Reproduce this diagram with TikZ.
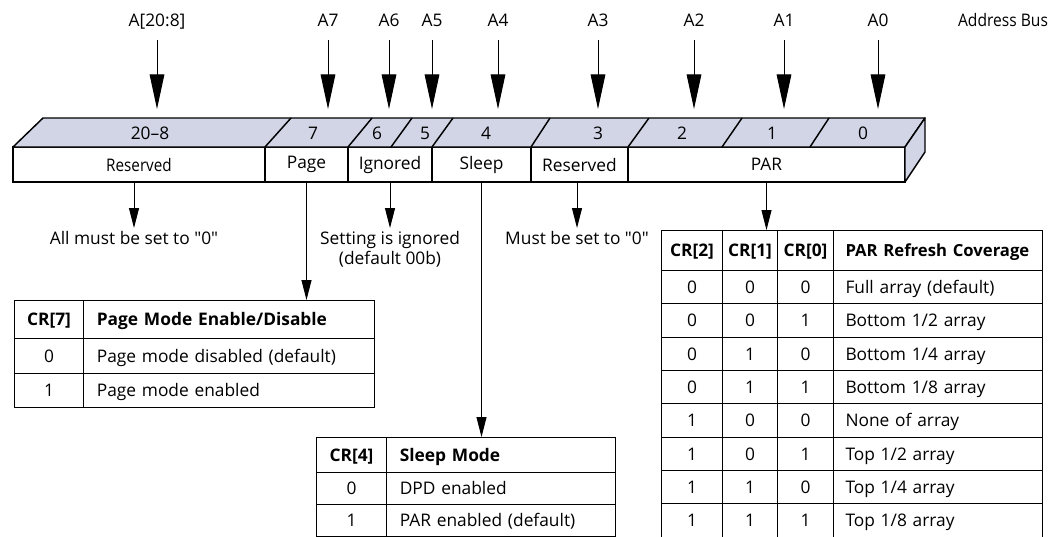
\documentclass[tikz,border=0pt]{standalone}
\usepackage{fontspec}
\setmainfont{Open Sans}
\usetikzlibrary{positioning,matrix,arrows.meta}
\definecolor{regblue}{RGB}{209,213,230}

\tikzset{
    regcell/.style={draw,fill=white,line width=1.1pt,minimum height=26.25pt,inner sep=0pt,outer sep=0pt,anchor=north west},
    face/.style={draw,fill=regblue,line width=1.1pt,line join=round},
    buslbl/.style={inner xsep=0pt,inner ysep=10.5pt,text height=9.3pt,text depth=0pt},
    busarr/.style={-{Triangle[length=26pt,width=11pt]},line width=0.75pt},
    notearr/.style={-{Triangle[length=15pt,width=7.5pt]},line width=0.75pt},
    note/.style={anchor=north,inner sep=2pt,align=center},
    tbl/.style={matrix of nodes,inner sep=0pt,outer sep=0pt,row sep=-0.75pt,column sep=-0.75pt,
        nodes={draw,line width=0.75pt,outer sep=0pt,inner xsep=10pt,inner ysep=0pt,
            text height=9.3pt,text depth=0pt,anchor=center}}
}

\begin{document}
\fontsize{13pt}{15pt}\selectfont
\begin{tikzpicture}[x=0.75pt,y=-0.75pt]
            \useasboundingbox (0,0) rectangle (1055,536);
            % Address bus
            \foreach \n/\x/\t in {b208/157/A[20:8],b7/328/A7,b6/389/A6,b5/432/A5,b4/498/A4,b3/598/A3,b2/694/A2,b1/784/A1,b0/878/A0}{
                \node[buslbl](l\n) at (\x,20){\t};
                \coordinate (t\n) at (\x,109);
                \draw[busarr](l\n)--(t\n);
            }
            \node(lbus) at (1003,20){\scalebox{0.9}[1]{Address Bus}};
            % Register front
            \node[regcell,minimum width=189pt](rres) at (13,147){\scalebox{0.88}[1]{Reserved}};
            \node[regcell,minimum width=62.25pt,right=0pt of rres](rpage){Page};
            \node[regcell,minimum width=63pt,right=0pt of rpage](rign){Ignored};
            \node[regcell,minimum width=74.25pt,right=0pt of rign](rsleep){Sleep};
            \node[regcell,minimum width=72.75pt,right=0pt of rsleep](rresb){Reserved};
            \node[regcell,minimum width=207.75pt,right=0pt of rresb](rpar){PAR};
            % Register top and side
            \draw[face](13,147)--(43,118)--(925,118)--(905,147)--cycle;
            \draw[face](905,147)--(925,118)--(925,152)--(905,182)--cycle;
            \foreach \x/\d in {265/26,348/24,391/21,432/21,531/19,628/21,722/20,810/19}
                \draw[line width=1.1pt](\x,147)--++(\d,-29);
            \foreach \x/\t in {150/20–8,313/7,377/6,425/5,486/4,598/3,682/2,772/1,863/0}
                \node at (\x,133){\t};
            % Notes
            \node[note](nres) at (134,228){All must be set to \textquotedbl0\textquotedbl};
            \node[note](nign) at (390,228){Setting is ignored\\(default 00b)};
            \node[note](nresb) at (577,228){Must be set to \textquotedbl0\textquotedbl};
            \draw[notearr](nres|-rres.south)--(nres);
            \draw[notearr](nign|-rign.south)--(nign);
            \draw[notearr](nresb|-rresb.south)--(nresb);
            % Tables
            \matrix (tpage) [tbl,anchor=north west,nodes={minimum height=26pt},
                column 1/.style={nodes={minimum width=51.75pt,inner xsep=2pt}},
                column 2/.style={nodes={text width=198.25pt,align=left}},
                row 1/.style={nodes={font=\bfseries,minimum height=28.5pt}}] at (14,300) {
                CR[7] & \mbox{Page Mode Enable/Disable} \\
                0 & \mbox{Page mode disabled (default)} \\
                1 & \mbox{Page mode enabled} \\
            };
            \matrix (tsleep) [tbl,anchor=north west,nodes={minimum height=24pt},
                column 1/.style={nodes={minimum width=52.5pt,inner xsep=2pt}},
                column 2/.style={nodes={text width=151.75pt,align=left}},
                row 1/.style={nodes={font=\bfseries,minimum height=26.25pt}}] at (316,437) {
                CR[4] & \mbox{Sleep Mode} \\
                0 & \mbox{DPD enabled} \\
                1 & \mbox{PAR enabled (default)} \\
            };
            \matrix (tpar) [tbl,anchor=north west,nodes={minimum height=25pt},
                column 1/.style={nodes={minimum width=45.75pt,inner xsep=2pt}},
                column 2/.style={nodes={minimum width=41.25pt,inner xsep=2pt}},
                column 3/.style={nodes={minimum width=42pt,inner xsep=2pt}},
                column 4/.style={nodes={text width=138.75pt,inner xsep=9pt,align=left}},
                row 1/.style={nodes={font=\bfseries,minimum height=30pt}}] at (661,230) {
                CR[2] & CR[1] & CR[0] & \mbox{\fontsize{12.5pt}{15pt}\selectfont PAR Refresh Coverage} \\
                0 & 0 & 0 & \mbox{Full array (default)} \\
                0 & 0 & 1 & \mbox{Bottom 1/2 array} \\
                0 & 1 & 0 & \mbox{Bottom 1/4 array} \\
                0 & 1 & 1 & \mbox{Bottom 1/8 array} \\
                1 & 0 & 0 & \mbox{None of array} \\
                1 & 0 & 1 & \mbox{Top 1/2 array} \\
                1 & 1 & 0 & \mbox{Top 1/4 array} \\
                1 & 1 & 1 & \mbox{Top 1/8 array} \\
            };
            % Register to tables
            \draw[notearr](rpage.south)--(rpage.south|-tpage.north);
            \draw[notearr](rsleep.south)--(rsleep.south|-tsleep.north);
            \draw[notearr](rpar.south)--(rpar.south|-tpar.north);
        \end{tikzpicture}
\end{document}
